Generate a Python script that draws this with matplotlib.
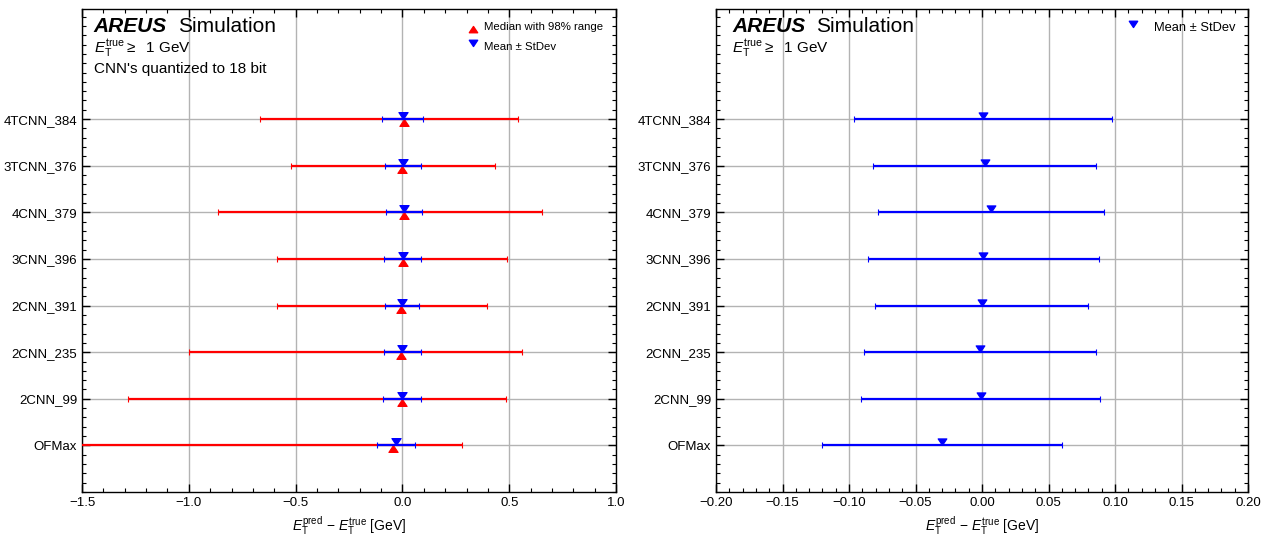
import matplotlib
matplotlib.use("Agg")
import numpy as np
import matplotlib.pyplot as plt
from matplotlib.path import Path
from matplotlib.lines import Line2D
from matplotlib.ticker import MultipleLocator

plt.rcParams['font.family'] = ['Liberation Sans', 'DejaVu Sans']
plt.rcParams['mathtext.fontset'] = 'custom'
plt.rcParams['mathtext.rm'] = 'Liberation Sans'
plt.rcParams['mathtext.it'] = 'Liberation Sans:italic'
plt.rcParams['mathtext.bf'] = 'Liberation Sans:bold'
plt.rcParams['axes.unicode_minus'] = True

# models, bottom to top
models = ["OFMax", "2CNN_99", "2CNN_235", "2CNN_391", "3CNN_396", "4CNN_379", "3TCNN_376", "4TCNN_384"]
# median and 98% range (1st / 99th percentile) [GeV]
median = np.array([-0.043, 0.0, -0.008, -0.005, 0.004, 0.009, 0.0, 0.006])
q01 = np.array([-1.62, -1.287, -0.997, -0.589, -0.585, -0.863, -0.521, -0.668])
q99 = np.array([0.277, 0.484, 0.561, 0.397, 0.489, 0.652, 0.432, 0.540])
# mean and standard deviation [GeV]
mean = np.array([-0.030, -0.001, -0.0015, -0.0003, 0.001, 0.007, 0.002, 0.001])
std = np.array([0.090, 0.090, 0.087, 0.080, 0.087, 0.085, 0.084, 0.097])

ypos = np.arange(len(models))

# triangles with the tip on the data point
tri_down = Path([[-1, 1.5], [1, 1.5], [0, 0], [-1, 1.5]], closed=True)
tri_up = Path([[-1, -1.5], [1, -1.5], [0, 0], [-1, -1.5]], closed=True)

fig = plt.figure(figsize=(12.7, 5.36), dpi=100)
ax1 = fig.add_axes([0.0646, 0.082, 0.4205, 0.901])
ax2 = fig.add_axes([0.5638, 0.082, 0.4189, 0.901])

xlabel = r"$E_{\mathrm{T}}^{\mathrm{pred}}\,-\,E_{\mathrm{T}}^{\mathrm{true}}$ [GeV]"


def style(ax, xmin, xmax, major, minor):
    ax.set_xlim(xmin, xmax)
    ax.set_ylim(-1, 9.36)
    ax.set_yticks(ypos)
    ax.set_yticklabels(models)
    ax.xaxis.set_major_locator(MultipleLocator(major))
    ax.xaxis.set_minor_locator(MultipleLocator(minor))
    ax.yaxis.set_minor_locator(MultipleLocator(0.2))
    ax.tick_params(which='both', direction='in', top=True, right=True, labelsize=9.5)
    ax.tick_params(which='major', length=5.5, width=1)
    ax.tick_params(which='minor', length=3, width=0.8)
    ax.grid(True, which='major', color='#b3b3b3', lw=1.0)
    ax.set_axisbelow(True)
    ax.set_xlabel(xlabel, fontsize=10, labelpad=4)
    for s in ax.spines.values():
        s.set_linewidth(1.0)


def label(ax, x, lines):
    t = ax.text(x, 0.944, "AREUS", transform=ax.transAxes, fontsize=15,
                fontweight='bold', style='italic', va='bottom')
    ax.annotate("Simulation", xy=(1, 0), xycoords=t, xytext=(8, 0),
                textcoords='offset points', fontsize=15, va='bottom')
    ys = [0.911, 0.867]
    for yy, s in zip(ys, lines):
        ax.text(x, yy, s, transform=ax.transAxes, fontsize=11, va='baseline')


# left panel: median with 98% range and mean +- std
ax1.errorbar(median, ypos, xerr=[median - q01, q99 - median], ls='none',
             marker=tri_up, ms=10, color='red', mec='red', mew=0.8,
             elinewidth=1.6, capsize=2.5, capthick=1.2, zorder=3)
ax1.errorbar(mean, ypos, xerr=std, ls='none', marker=tri_down, ms=10,
             color='blue', mec='blue', mew=0.8, elinewidth=1.6,
             capsize=2.5, capthick=1.2, zorder=4)
style(ax1, -1.5, 1.0, 0.5, 0.1)
label(ax1, 0.022, [r"$E_{\mathrm{T}}^{\mathrm{true}} \geq$  1 GeV", "CNN's quantized to 18 bit"])
h1 = [Line2D([], [], ls='none', marker=tri_up, ms=9, color='red'),
      Line2D([], [], ls='none', marker=tri_down, ms=9, color='blue')]
ax1.legend(h1, ["Median with 98% range", "Mean \u00b1 StDev"], loc='upper right',
           frameon=False, fontsize=8.2, handlelength=1.0, handletextpad=0.5,
           borderaxespad=0.7, labelspacing=0.9)

# right panel: mean +- std only
ax2.errorbar(mean, ypos, xerr=std, ls='none', marker=tri_down, ms=9.5,
             color='blue', mec='blue', mew=0.8, elinewidth=1.6,
             capsize=2.5, capthick=1.2, zorder=4)
style(ax2, -0.2, 0.2, 0.05, 0.01)
label(ax2, 0.03, [r"$E_{\mathrm{T}}^{\mathrm{true}} \geq$  1 GeV"])
h2 = [Line2D([], [], ls='none', marker=tri_down, ms=9, color='blue')]
ax2.legend(h2, ["Mean \u00b1 StDev"], loc='upper right', frameon=False,
           fontsize=9.3, handlelength=1.2, handletextpad=1.0, borderaxespad=0.6)

fig.savefig("out.png", dpi=100)
